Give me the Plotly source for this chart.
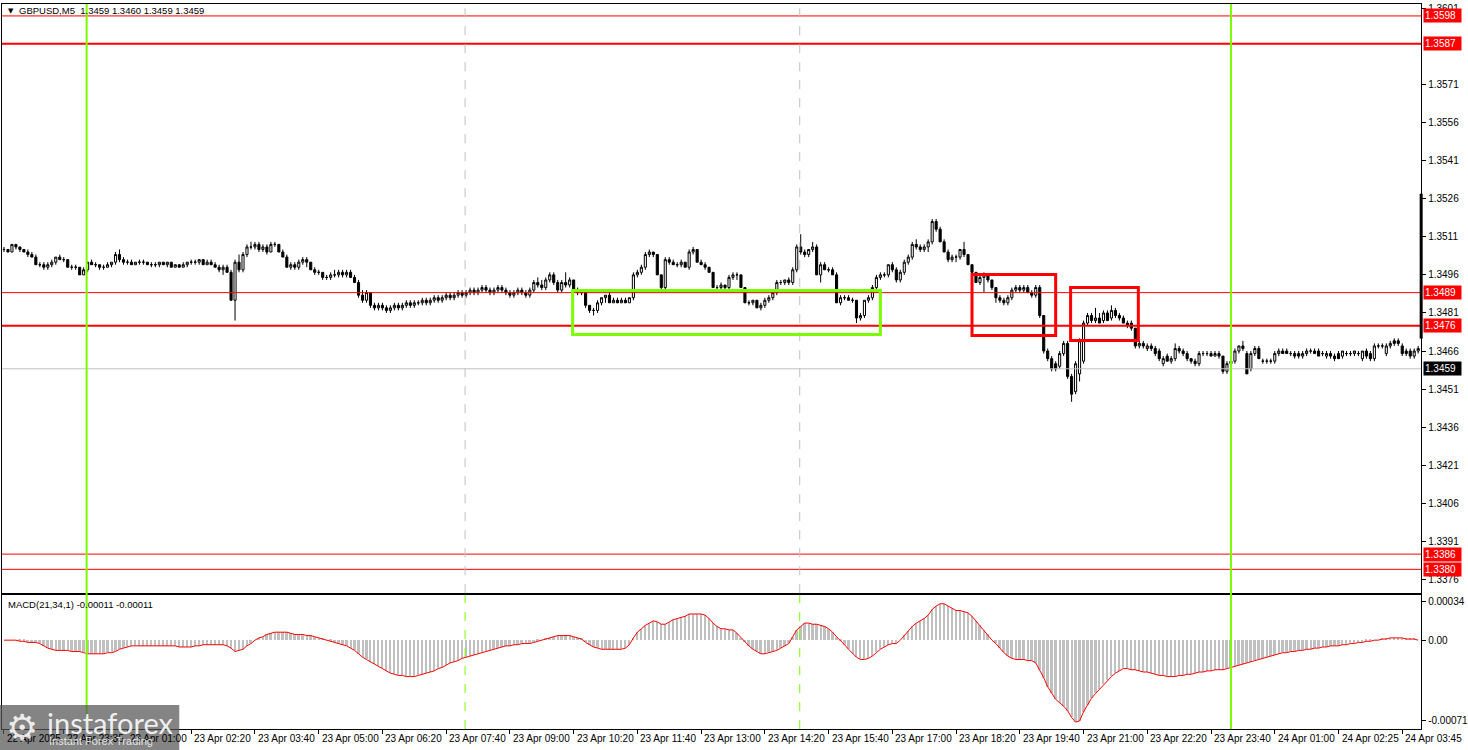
import plotly.graph_objects as go

# ---------------- data (prices in pips above 1.3000, MACD in 1e-5) ----------------
PRICE_BASE = 1.3
PIP = 0.0001

open_pips = [
506,506,505,508,507,506,505,504,503,500,
500,499,500,501,503,502,502,499,499,499,
496,498,501,500,500,499,499,500,501,504,
502,501,501,500,501,501,501,500,500,500,
501,500,501,499,500,499,500,501,501,501,
502,500,501,500,499,498,499,497,486,501,
498,504,507,507,508,506,507,505,508,508,
505,503,499,500,499,501,502,501,498,497,
497,495,495,496,496,497,496,497,495,493,
488,486,489,484,483,484,483,482,483,484,
483,484,485,484,485,485,486,485,486,487,
486,487,488,487,488,489,488,489,490,489,
490,491,490,489,490,491,490,489,488,489,
490,489,488,490,493,492,491,494,496,493,
490,493,492,494,490,489,489,484,482,482,
485,487,488,485,486,485,486,485,487,496,
497,499,504,505,504,496,491,502,501,500,
500,501,499,505,506,501,500,499,497,491,
491,492,491,495,496,496,491,485,485,486,
483,484,486,487,489,493,493,494,493,498,
507,505,504,506,507,496,500,498,498,496,
485,487,487,486,486,479,480,486,487,491,
495,496,496,500,498,494,497,501,503,508,
507,506,507,509,517,514,509,505,502,503,
503,506,504,500,497,493,495,496,494,491,
487,486,485,487,490,491,490,491,489,488,
491,480,466,463,461,460,465,469,456,450,
457,462,477,480,478,479,478,481,479,482,
480,479,477,477,475,468,469,467,468,467,
466,461,464,462,463,467,466,465,463,462,
461,465,465,465,464,465,464,458,461,462,
466,468,465,459,465,467,462,462,462,462,
465,466,466,465,465,465,464,465,466,466,
466,465,464,465,464,465,464,465,465,465,
465,463,466,465,463,468,468,465,468,470,
470,468,466,466,464,466]

high_pips = [
507,506,508,508,507,506,506,505,504,501,
501,501,502,503,504,503,502,500,500,499,
499,501,502,501,500,500,501,501,505,506,
503,502,502,501,502,502,501,501,501,501,
501,501,501,500,500,501,501,502,502,502,
502,502,502,501,500,500,500,498,502,504,
505,508,509,509,509,508,508,509,509,508,
506,504,501,501,502,503,503,501,499,498,
497,496,497,498,498,498,498,498,496,494,
490,490,489,485,485,485,484,484,485,485,
485,486,486,486,486,487,487,487,488,488,
488,489,489,489,490,490,490,491,491,491,
492,492,491,491,492,492,491,490,490,491,
491,490,491,494,495,494,495,497,497,494,
494,497,495,494,491,490,489,484,483,486,
487,488,489,487,487,487,487,487,497,498,
500,505,506,505,504,496,503,503,502,501,
502,501,506,507,506,502,501,499,497,492,
493,492,496,497,497,496,491,486,486,486,
485,487,488,489,494,494,494,495,499,508,
512,506,506,509,508,501,501,499,499,497,
488,488,488,487,486,481,486,488,492,496,
497,497,500,501,499,498,502,504,509,510,
508,508,510,518,518,515,510,506,504,504,
506,509,504,500,497,496,497,496,494,491,
488,487,488,491,492,492,492,492,490,492,
492,480,467,464,462,466,470,470,457,462,
471,478,481,481,483,481,482,482,484,483,
481,480,478,478,475,470,470,469,469,468,
467,464,465,464,469,468,467,466,463,463,
466,466,466,466,466,466,464,462,462,467,
468,470,466,466,468,468,463,463,463,466,
467,467,467,466,466,466,466,467,467,467,
467,466,466,466,465,466,466,466,466,466,
466,466,467,466,469,469,469,469,470,471,
471,469,467,467,467,468]

low_pips = [
505,505,505,506,505,505,503,503,500,499,
498,498,499,500,502,501,499,498,498,496,
496,497,500,499,498,498,499,499,500,501,
500,500,500,500,500,500,500,499,499,499,
500,499,499,499,499,499,499,500,500,500,
500,500,500,499,497,496,497,486,478,497,
497,503,506,506,505,505,504,505,507,505,
503,499,498,498,498,500,499,498,496,496,
494,494,494,495,495,495,495,495,493,487,
485,485,483,482,482,482,481,481,482,482,
482,483,483,483,484,484,484,484,485,485,
485,486,486,486,487,487,487,488,488,488,
489,489,488,488,489,489,488,487,487,488,
488,487,487,489,491,490,490,493,492,489,
489,491,491,489,488,488,483,481,480,481,
484,485,485,485,485,485,485,485,486,495,
496,498,503,503,496,490,490,500,500,499,
499,499,498,504,501,500,498,497,491,490,
490,490,490,494,494,491,485,484,484,483,
482,483,485,486,488,492,492,492,492,497,
504,503,503,505,496,493,498,497,496,485,
484,486,486,485,477,478,479,485,486,490,
494,495,495,497,493,493,496,500,502,506,
505,505,505,508,513,509,505,501,501,501,
502,503,500,496,493,492,489,493,490,485,
485,484,484,486,489,489,489,489,487,487,
479,465,462,458,458,459,464,455,446,449,
454,461,476,477,477,477,477,478,478,479,
478,477,475,474,467,467,467,466,466,464,
462,460,462,461,462,465,464,462,461,460,
460,464,464,464,464,463,457,457,460,461,
465,466,457,458,464,463,461,461,461,461,
464,465,465,464,463,463,463,464,465,465,
464,464,463,463,462,463,463,464,464,464,
464,462,463,462,462,467,467,464,467,468,
468,464,464,463,463,465]

close_pips = [
506,505,508,507,506,505,504,503,500,500,
499,500,501,503,502,502,499,499,499,496,
498,501,500,500,499,499,500,501,504,502,
501,501,500,501,501,501,500,500,500,501,
500,501,499,500,499,500,501,501,501,502,
500,501,500,499,498,499,497,486,501,498,
504,507,507,508,506,507,505,508,508,505,
503,499,500,499,501,502,501,498,497,497,
495,495,496,496,497,496,497,495,493,488,
486,489,484,483,484,483,482,483,484,483,
484,485,484,485,485,486,485,486,487,486,
487,488,487,488,489,488,489,490,489,490,
491,490,489,490,491,490,489,488,489,490,
489,488,490,493,492,491,494,496,493,490,
493,492,494,490,489,489,484,482,482,485,
487,488,485,486,485,486,485,487,496,497,
499,504,505,504,496,491,502,501,500,500,
501,499,505,506,501,500,499,497,491,491,
492,491,495,496,496,491,485,485,486,483,
484,486,487,489,493,493,494,493,498,507,
505,504,506,507,496,500,498,498,496,485,
487,487,486,486,479,480,486,487,491,495,
496,496,500,498,494,497,501,503,508,507,
506,507,509,517,514,509,505,502,503,503,
506,504,500,497,493,495,496,494,491,487,
486,485,487,490,491,490,491,489,488,491,
480,466,463,459,459,465,469,456,449,461,
470,477,480,478,479,477,481,478,482,480,
479,477,476,475,468,469,468,468,467,465,
463,463,462,463,467,466,465,463,462,461,
465,465,465,464,465,464,458,461,462,466,
468,467,457,465,467,463,462,462,462,465,
466,465,465,465,464,464,465,466,466,465,
464,465,465,464,463,463,466,465,465,466,
465,466,464,463,468,468,468,468,469,469,
469,465,465,464,466,467]

macd_e5 = [
0,0,0,0,-1,-1,-2,-2,-2,-3,
-5,-7,-8,-9,-9,-9,-9,-10,-10,-10,
-11,-12,-12,-12,-12,-12,-11,-11,-10,-8,
-7,-6,-5,-5,-5,-5,-5,-5,-5,-5,
-5,-5,-5,-5,-6,-6,-6,-6,-5,-5,
-4,-4,-4,-4,-4,-4,-5,-7,-10,-9,
-8,-5,-3,0,2,3,5,6,7,7,
7,7,6,5,5,5,4,4,3,2,
1,0,-1,-2,-3,-4,-5,-7,-9,-12,
-15,-17,-19,-21,-23,-25,-27,-29,-30,-31,
-31,-32,-32,-32,-31,-30,-29,-28,-27,-25,
-24,-22,-20,-19,-18,-16,-15,-14,-13,-12,
-11,-10,-9,-8,-7,-6,-5,-5,-4,-4,
-3,-3,-3,-2,-1,0,1,2,3,4,
4,4,4,3,2,1,-2,-4,-6,-7,
-8,-8,-8,-8,-8,-8,-7,-4,2,7,
10,13,15,17,16,14,14,16,18,19,
20,21,23,23,23,23,22,19,15,12,
10,10,9,9,6,2,-2,-5,-8,-10,
-12,-12,-11,-10,-9,-7,-5,-3,3,9,
12,15,15,14,14,13,12,10,7,3,
-1,-4,-8,-12,-15,-17,-17,-16,-14,-11,
-8,-6,-4,-3,-3,0,4,8,12,15,
17,19,22,27,30,32,32,30,28,26,
26,25,24,21,17,13,9,5,0,-3,
-7,-11,-14,-16,-17,-17,-17,-18,-18,-20,
-26,-33,-41,-47,-52,-55,-58,-62,-68,-72,
-71,-63,-57,-51,-47,-43,-39,-35,-32,-29,
-27,-25,-25,-26,-26,-27,-28,-28,-29,-30,
-31,-31,-32,-32,-32,-31,-31,-30,-30,-29,
-28,-28,-27,-27,-26,-26,-26,-25,-24,-23,
-22,-21,-20,-19,-18,-17,-16,-15,-14,-13,
-12,-11,-11,-10,-10,-9,-9,-8,-8,-7,
-7,-6,-6,-5,-5,-5,-4,-4,-3,-3,
-2,-2,-1,-1,0,0,1,1,2,2,
2,2,1,1,1,0]

time_tick_idx = [0, 15, 31, 47, 63, 79, 95, 111, 127, 143, 159, 175, 191, 207,
                 223, 239, 255, 271, 287, 303, 319, 335, 351]
time_tick_text = ["22 Apr 2025", "22 Apr 23:35", "23 Apr 01:00", "23 Apr 02:20",
                  "23 Apr 03:40", "23 Apr 05:00", "23 Apr 06:20", "23 Apr 07:40",
                  "23 Apr 09:00", "23 Apr 10:20", "23 Apr 11:40", "23 Apr 13:00",
                  "23 Apr 14:20", "23 Apr 15:40", "23 Apr 17:00", "23 Apr 18:20",
                  "23 Apr 19:40", "23 Apr 21:00", "23 Apr 22:20", "23 Apr 23:40",
                  "24 Apr 01:00", "24 Apr 02:25", "24 Apr 03:45"]

price_ticks = [1.3601, 1.3571, 1.3556, 1.3541, 1.3526, 1.3511, 1.3496, 1.3481,
               1.3466, 1.3451, 1.3436, 1.3421, 1.3406, 1.3391, 1.3376]
macd_ticks = [0.00034, 0.0, -0.00071]
macd_tick_text = ["0.00034", "0.00", "-0.00071"]

red_levels = [1.3598, 1.3587, 1.3489, 1.3476, 1.3386, 1.3380]
red_level_widths = [1, 2, 1, 2, 1, 1]
bid_price = 1.3459

# ---------------- build ----------------
W, H = 1468, 750
n = len(close_pips)
idx = list(range(n))
opens = [PRICE_BASE + v * PIP for v in open_pips]
highs = [PRICE_BASE + v * PIP for v in high_pips]
lows = [PRICE_BASE + v * PIP for v in low_pips]
closes = [PRICE_BASE + v * PIP for v in close_pips]
macd = [v * 1e-5 for v in macd_e5]

FONT = "Liberation Sans, Arial, sans-serif"
FS = 10
FS_SMALL = 9.5
GREEN = "#7CFC00"

fig = go.Figure()
fig.add_trace(go.Candlestick(
    x=idx, open=opens, high=highs, low=lows, close=closes,
    increasing=dict(line=dict(color="black", width=1), fillcolor="white"),
    decreasing=dict(line=dict(color="black", width=1), fillcolor="black"),
    whiskerwidth=0, xaxis="x", yaxis="y", showlegend=False, hoverinfo="skip"))
fig.add_trace(go.Bar(
    x=idx, y=macd, width=0.5, marker=dict(color="#C0C0C0", line=dict(width=0)),
    xaxis="x2", yaxis="y2", showlegend=False, hoverinfo="skip"))
fig.add_trace(go.Scatter(
    x=idx, y=macd, mode="lines", line=dict(color="red", width=1),
    xaxis="x2", yaxis="y2", showlegend=False, hoverinfo="skip"))

xdom = [2 / W, 1427 / W]
xr = [-0.5, n - 0.25]
main_dom = [1 - 593 / H, 1 - 3 / H]
macd_dom = [1 - 729 / H, 1 - 595 / H]

shapes = []
for lv, lw in zip(red_levels, red_level_widths):
    shapes.append(dict(type="line", xref="paper", yref="y", x0=xdom[0], x1=xdom[1],
                       y0=lv, y1=lv, line=dict(color="red", width=lw)))
shapes.append(dict(type="line", xref="paper", yref="y", x0=xdom[0], x1=xdom[1],
                   y0=bid_price, y1=bid_price, line=dict(color="#C0C0C0", width=1)))
for sx in [115.75, 199.75]:
    shapes.append(dict(type="line", xref="x", yref="paper", x0=sx, x1=sx,
                       y0=main_dom[0], y1=main_dom[1],
                       line=dict(color="#C0C0C0", width=1, dash="dash")))
    shapes.append(dict(type="line", xref="x", yref="paper", x0=sx, x1=sx,
                       y0=macd_dom[0], y1=macd_dom[1],
                       line=dict(color=GREEN, width=1, dash="dash")))
for gx in [20.75, 308]:
    shapes.append(dict(type="line", xref="x", yref="paper", x0=gx, x1=gx,
                       y0=macd_dom[0], y1=main_dom[1], line=dict(color=GREEN, width=2)))
shapes.append(dict(type="rect", xref="x", yref="y", x0=142.75, x1=220, y0=1.34725, y1=1.34898,
                   line=dict(color=GREEN, width=3)))
shapes.append(dict(type="rect", xref="x", yref="y", x0=243, x1=264, y0=1.34721, y1=1.34961,
                   line=dict(color="red", width=3)))
shapes.append(dict(type="rect", xref="x", yref="y", x0=267.75, x1=284.75, y0=1.34701, y1=1.34910,
                   line=dict(color="red", width=3)))
shapes.append(dict(type="line", xref="paper", yref="y", x0=1427 / W, x1=1427 / W,
                   y0=1.34709, y1=1.3528, line=dict(color="black", width=3)))
shapes.append(dict(type="rect", xref="paper", yref="paper", x0=0, x1=180 / W, y0=0, y1=1 - 705 / H,
                   fillcolor="rgba(85,85,85,0.72)", line=dict(width=0), layer="above"))

ann = []
for ti, tt in zip(time_tick_idx, time_tick_text):
    ann.append(dict(x=ti, xref="x2", y=1 - 738 / H, yref="paper", text=tt, showarrow=False,
                    xanchor="left", yanchor="middle", xshift=1,
                    font=dict(family=FONT, size=FS, color="black")))
for lv in red_levels:
    ann.append(dict(x=1429 / W, xref="paper", y=lv, yref="y", text=f"{lv:.4f}", showarrow=False,
                    xanchor="left", yanchor="middle", bgcolor="red", width=35, align="left",
                    borderpad=1, font=dict(family=FONT, size=FS, color="white")))
ann.append(dict(x=1429 / W, xref="paper", y=bid_price, yref="y", text=f"{bid_price:.4f}",
                showarrow=False, xanchor="left", yanchor="middle", bgcolor="black", width=35,
                align="left", borderpad=1, font=dict(family=FONT, size=FS, color="white")))
ann.append(dict(x=6 / W, xref="paper", y=1 - 10 / H, yref="paper", text="▼", showarrow=False,
                xanchor="left", yanchor="middle", font=dict(family="DejaVu Sans", size=7, color="black")))
ann.append(dict(x=17 / W, xref="paper", y=1 - 10 / H, yref="paper",
                text="GBPUSD,M5  1.3459 1.3460 1.3459 1.3459", showarrow=False,
                xanchor="left", yanchor="middle", font=dict(family=FONT, size=FS_SMALL, color="black")))
ann.append(dict(x=6 / W, xref="paper", y=1 - 604 / H, yref="paper",
                text="MACD(21,34,1) -0.00011 -0.00011", showarrow=False,
                xanchor="left", yanchor="middle", font=dict(family=FONT, size=FS_SMALL, color="black")))
ann.append(dict(x=4 / W, xref="paper", y=1 - 727 / H, yref="paper", text="⚙", showarrow=False,
                xanchor="left", yanchor="middle",
                font=dict(family="DejaVu Sans", size=36, color="rgba(255,255,255,0.85)")))
ann.append(dict(x=45 / W, xref="paper", y=1 - 722 / H, yref="paper", text="instaforex",
                showarrow=False, xanchor="left", yanchor="middle",
                font=dict(family="Lato, Open Sans, sans-serif", size=29, color="rgba(255,255,255,0.88)")))
ann.append(dict(x=47 / W, xref="paper", y=1 - 741 / H, yref="paper", text="Instant Forex Trading",
                showarrow=False, xanchor="left", yanchor="middle",
                font=dict(family=FONT, size=11, color="rgba(255,255,255,0.8)")))

fig.update_layout(
    width=W, height=H, margin=dict(l=0, r=0, t=0, b=0),
    paper_bgcolor="white", plot_bgcolor="white",
    font=dict(family=FONT, size=FS, color="black"),
    boxgap=0.25, bargap=0, showlegend=False, hovermode=False,
    xaxis=dict(domain=xdom, range=xr, anchor="y", showticklabels=False, ticks="",
               showgrid=False, zeroline=False, showline=True, mirror=True,
               linecolor="black", linewidth=1, rangeslider=dict(visible=False)),
    yaxis=dict(domain=main_dom, range=[1.33706, 1.36027], side="right", anchor="x",
               tickvals=price_ticks, ticktext=[f"{v:.4f}" for v in price_ticks],
               ticks="outside", ticklen=4, tickcolor="black", showgrid=False,
               zeroline=False, showline=True, mirror=True, linecolor="black", linewidth=1),
    xaxis2=dict(domain=xdom, range=xr, anchor="y2", tickvals=time_tick_idx, ticks="outside",
                ticklen=4, tickcolor="black", showticklabels=False, showgrid=False,
                zeroline=False, showline=True, mirror=True, linecolor="black", linewidth=1),
    yaxis2=dict(domain=macd_dom, range=[-0.000781, 0.000395], side="right", anchor="x2",
                tickvals=macd_ticks, ticktext=macd_tick_text, ticks="outside", ticklen=4,
                tickcolor="black", showgrid=False, zeroline=False, showline=True, mirror=True,
                linecolor="black", linewidth=1),
    shapes=shapes, annotations=ann,
)

fig.write_html("out.html", config={"displayModeBar": False},
               post_script="document.body.style.margin='0px';document.body.style.overflow='hidden';")
